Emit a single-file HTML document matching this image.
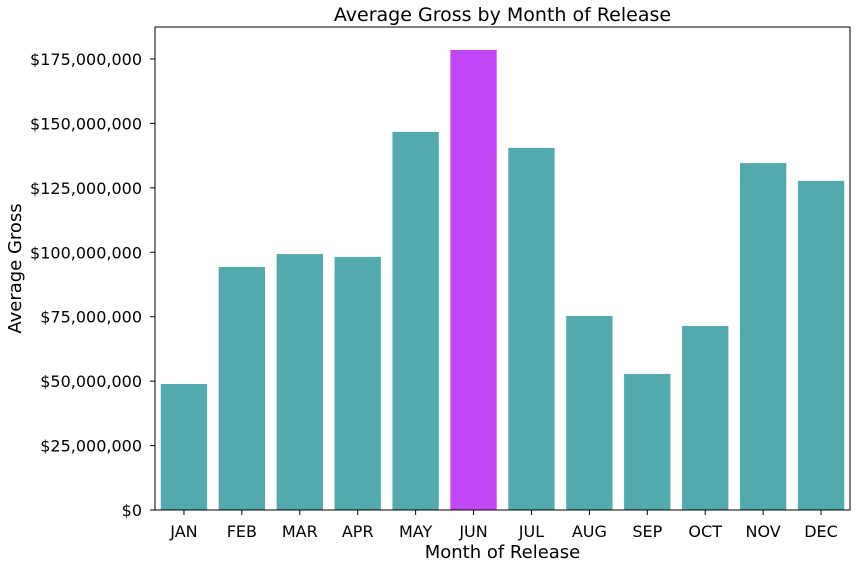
<!DOCTYPE html>
<html><head><meta charset="utf-8"><style>
body{margin:0;background:#fff;font-family:"Liberation Sans","DejaVu Sans",sans-serif;}
svg text{font-family:"DejaVu Sans","Liberation Sans",sans-serif;fill:#000;}
</style></head><body>
<svg id="chart" width="856" height="568"></svg>
<script>
const months=["JAN","FEB","MAR","APR","MAY","JUN","JUL","AUG","SEP","OCT","NOV","DEC"];
const grossValues=[48900000,94300000,99300000,98200000,146700000,178500000,140500000,75300000,52800000,71400000,134600000,127700000];
const yTicks=[0,25000000,50000000,75000000,100000000,125000000,150000000,175000000];
const highlightMonth="JUN";
const NS="http://www.w3.org/2000/svg";
const svg=document.getElementById("chart");
const L=155,R=850,T=27,B=510,yMax=187400000;
const y=v=>B-(v/yMax)*(B-T);
const slot=(R-L)/months.length;
const x=i=>L+slot*i;
function mk(tag,attrs){const e=document.createElementNS(NS,tag);for(const k in attrs)e.setAttribute(k,attrs[k]);svg.appendChild(e);return e;}
const fmt=v=>"$"+v.toLocaleString("en-US");
months.forEach((m,i)=>{
  const b=mk("rect",{x:x(i)+slot*0.1,y:y(grossValues[i]),width:slot*0.8,height:B-y(grossValues[i]),fill:m===highlightMonth?"#c247f7":"#52a9ae"});
  
  
  const tk=mk("line",{x1:x(i)+slot/2,x2:x(i)+slot/2,y1:B,y2:B+5,stroke:"#000"});
  
  
  const t=mk("text",{x:x(i)+slot/2,y:B+27,"text-anchor":"middle","font-size":"16"});
  t.textContent=m;
  
  
});
yTicks.forEach(v=>{
  const tk=mk("line",{x1:L-5,x2:L,y1:y(v),y2:y(v),stroke:"#000"});
  
  
  const t=mk("text",{x:L-13,y:y(v)+6,"text-anchor":"end","font-size":"16"});
  t.textContent=fmt(v);
  
  
});
const frame=mk("rect",{x:L,y:T,width:R-L,height:B-T,fill:"none",stroke:"#000","stroke-width":"1"});


const title=mk("text",{x:(L+R)/2,y:21,"text-anchor":"middle","font-size":"19"});
title.textContent="Average Gross by Month of Release";


const xt=mk("text",{x:(L+R)/2,y:558,"text-anchor":"middle","font-size":"18"});
xt.textContent="Month of Release";


const yt=mk("text",{x:0,y:0,"text-anchor":"middle","font-size":"18",transform:"translate(21,"+((T+B)/2)+") rotate(-90)"});
yt.textContent="Average Gross";


</script>
</body></html>
